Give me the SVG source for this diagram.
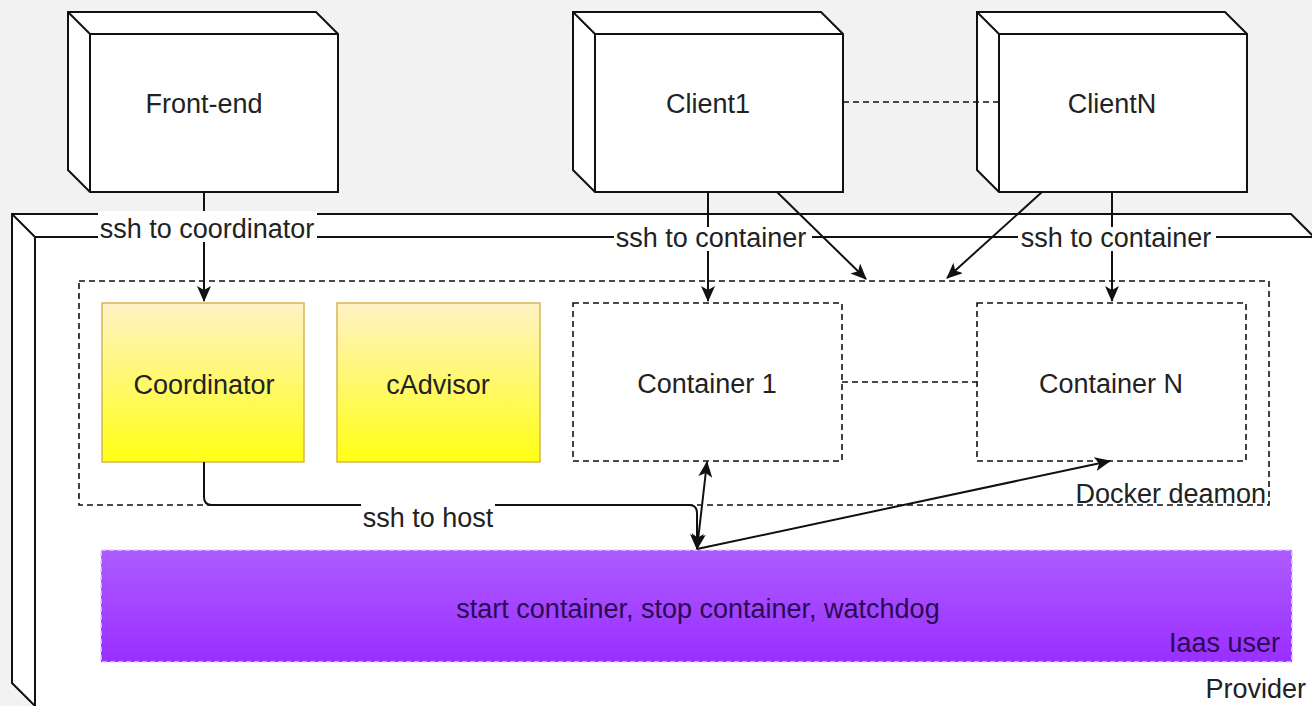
<svg xmlns="http://www.w3.org/2000/svg" width="1312" height="706" viewBox="0 0 1312 706">
<style>
.t{font-family:"Liberation Sans",Arial,sans-serif;font-size:27px;fill:#222}
.m{text-anchor:middle}
.e{text-anchor:end}
.cube{fill:#fff;stroke:#111;stroke-width:2;stroke-linejoin:miter}
.edge{fill:none;stroke:#111;stroke-width:2}
.dash{fill:#fff;stroke:#111;stroke-width:1.6;stroke-dasharray:6 4}
.dl{fill:none;stroke:#111;stroke-width:1.6;stroke-dasharray:6 4}
.yel{fill:url(#gy);stroke:#d6b656;stroke-width:1.5}
.lbl{fill:#fff}
</style>
<defs>
<linearGradient id="gy" x1="0" y1="0" x2="0" y2="1">
<stop offset="0" stop-color="#fff2c6"/>
<stop offset="1" stop-color="#ffff14"/>
</linearGradient>
<linearGradient id="gp" x1="0" y1="0" x2="0" y2="1">
<stop offset="0" stop-color="#ad5cff"/>
<stop offset="1" stop-color="#9a2eff"/>
</linearGradient>
<marker id="ar" viewBox="0 0 16 14" refX="15" refY="7" markerWidth="16" markerHeight="14" markerUnits="userSpaceOnUse" orient="auto-start-reverse">
<path d="M0,0 L16,7 L0,14 L4,7 Z" fill="#111"/>
</marker>
</defs>
<rect width="1312" height="706" fill="#f2f2f2"/>

<g id="provider">
<path class="cube" d="M12,214 H1291 L1314,237 V720 H35 V706 L12,683 Z"/>
<path class="edge" d="M12,214 L35,237 H1314 M35,237 V720"/>
<text class="t e" x="1306" y="698">Provider</text>
</g>

<g id="docker">
<rect class="dash" x="79" y="281" width="1190" height="224"/>
<text class="t e" x="1266" y="503">Docker deamon</text>
</g>

<g id="frontend">
<path class="cube" d="M68,12 H316 L338,34 V192 H90 L68,170 Z"/>
<path class="edge" d="M68,12 L90,34 H338 M90,34 V192"/>
<text class="t m" x="204" y="113">Front-end</text>
</g>

<g id="client1">
<path class="cube" d="M573,12 H821 L843,34 V192 H595 L573,170 Z"/>
<path class="edge" d="M573,12 L595,34 H843 M595,34 V192"/>
<text class="t m" x="708" y="113">Client1</text>
</g>

<g id="clientN">
<path class="cube" d="M977,12 H1225 L1247,34 V192 H999 L977,170 Z"/>
<path class="edge" d="M977,12 L999,34 H1247 M999,34 V192"/>
<text class="t m" x="1112" y="113">ClientN</text>
</g>

<g id="coordinator">
<rect class="yel" x="102" y="303" width="202" height="159"/>
<text class="t m" x="204" y="394">Coordinator</text>
</g>

<g id="cadvisor">
<rect class="yel" x="337" y="303" width="203" height="159"/>
<text class="t m" x="438" y="394">cAdvisor</text>
</g>

<g id="container1">
<rect class="dash" x="573" y="303" width="269" height="158"/>
<text class="t m" x="707" y="393">Container 1</text>
</g>

<g id="containerN">
<rect class="dash" x="977" y="303" width="269" height="158"/>
<text class="t m" x="1111" y="393">Container N</text>
</g>

<g id="iaas">
<rect x="101" y="550" width="1191" height="112" fill="url(#gp)" stroke="#e8ccff" stroke-width="1.5" stroke-dasharray="5 3"/>
<text class="t m" x="698" y="618" style="fill:#2b0b52">start container, stop container, watchdog</text>
<text class="t e" x="1280" y="652" style="fill:#2b0b52">Iaas user</text>
</g>

<g id="connectors">
<path class="dl" d="M843,102 H999"/>
<path class="dl" d="M842,382 H977"/>
<path class="edge" d="M204,192 V301" marker-end="url(#ar)"/>
<path class="edge" d="M708,192 V301" marker-end="url(#ar)"/>
<path class="edge" d="M1112,192 V301" marker-end="url(#ar)"/>
<path class="edge" d="M777,192 L866,279" marker-end="url(#ar)"/>
<path class="edge" d="M1042,192 L947,278" marker-end="url(#ar)"/>
<path class="edge" d="M204,462 V497 Q204,505 212,505 H689 Q697,505 697,513 V549" marker-end="url(#ar)"/>
<path class="edge" d="M697,549 L707,462" marker-start="url(#ar)" marker-end="url(#ar)"/>
<path class="edge" d="M697,549 L1110,461" marker-end="url(#ar)"/>
<rect class="lbl" x="98" y="211" width="219" height="31"/>
<text class="t m" x="207" y="238">ssh to coordinator</text>
<rect class="lbl" x="614" y="227" width="198" height="24"/>
<text class="t m" x="711" y="247">ssh to container</text>
<rect class="lbl" x="1018" y="227" width="198" height="24"/>
<text class="t m" x="1116" y="247">ssh to container</text>
<rect class="lbl" x="361" y="500" width="134" height="32"/>
<text class="t m" x="428" y="527">ssh to host</text>
</g>
</svg>
